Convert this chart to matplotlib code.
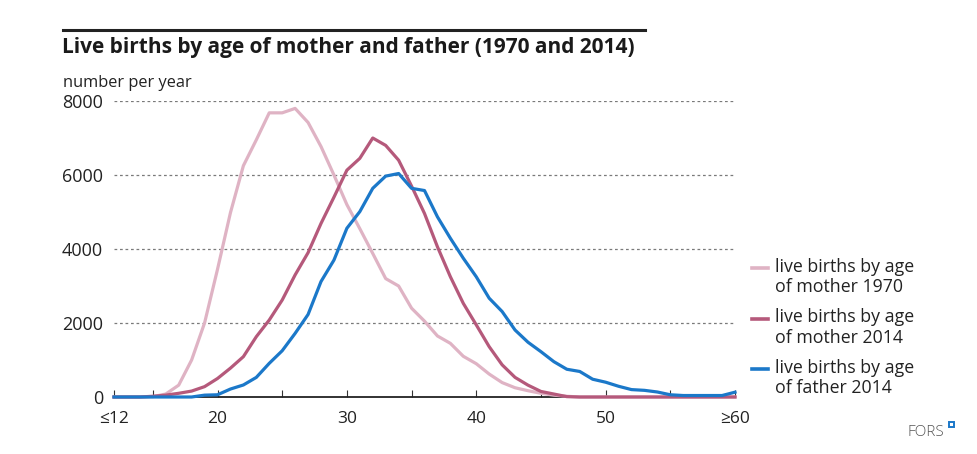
import numpy as np
import matplotlib.pyplot as plt
from matplotlib.lines import Line2D
from matplotlib.patches import Rectangle

plt.rcParams['font.family'] = ['Open Sans', 'DejaVu Sans']

# ages 12 (<=12) .. 60 (>=60)
ages = list(range(12, 61))

# live births by age of mother, 1970
mother_1970 = [0, 0, 0, 10, 80, 320, 1000, 2000, 3450, 4980, 6250, 6950, 7680, 7680, 7800, 7420,
               6770, 6000, 5200, 4550, 3880, 3200, 3000, 2400, 2050, 1650, 1450, 1100, 900, 620,
               390, 250, 170, 100, 50, 20, 0, 0, 0, 0, 0, 0, 0, 0, 0, 0, 0, 0, 0]
# live births by age of mother, 2014
mother_2014 = [0, 0, 0, 20, 50, 100, 160, 280, 500, 780, 1090, 1630, 2080, 2620, 3300, 3900,
               4690, 5400, 6130, 6450, 7000, 6800, 6400, 5700, 4960, 4060, 3250, 2530, 1950, 1360,
               870, 530, 320, 150, 80, 10, 0, 0, 0, 0, 0, 0, 0, 0, 0, 0, 0, 0, 0]
# live births by age of father, 2014
father_2014 = [0, 0, 0, 0, 0, 0, 0, 50, 60, 215, 325, 530, 910, 1250, 1720, 2230,
               3120, 3700, 4560, 5010, 5640, 5970, 6040, 5640, 5580, 4870, 4290, 3750, 3250, 2670,
               2310, 1810, 1480, 1225, 955, 750, 690, 480, 400, 290, 200, 180, 135, 60, 40, 40,
               40, 40, 130]

series = [
    (mother_1970, '#dfb3c4', 'live births by age\nof mother 1970'),
    (mother_2014, '#b5597b', 'live births by age\nof mother 2014'),
    (father_2014, '#1b78c9', 'live births by age\nof father 2014'),
]

fig = plt.figure(figsize=(9.77, 4.54), dpi=100)
ax = fig.add_axes([114 / 977, 1 - 397 / 454, (735 - 114) / 977, (397 - 101) / 454])

for vals, col, lab in series:
    ax.plot(ages, vals, color=col, lw=2.3, clip_on=False, solid_joinstyle='round', zorder=3)

ax.set_xlim(12, 60)
ax.set_ylim(0, 8000)
ax.set_yticks([0, 2000, 4000, 6000, 8000])
ax.set_yticklabels(['0', '2000', '4000', '6000', '8000'])
for y in [2000, 4000, 6000, 8000]:
    ax.axhline(y, color='#7a7a7a', lw=0.9, ls=(0, (2.2, 2.2)), zorder=1)

ax.set_xticks([12, 20, 30, 40, 50, 60])
ax.set_xticklabels(['≤12', '20', '30', '40', '50', '≥60'])
ax.set_xticks([15, 25, 35, 45, 55], minor=True)
ax.tick_params(axis='x', which='both', direction='in', length=5, width=0.8, color='#333333',
               labelsize=12.5, pad=10, labelcolor='#222222')
ax.tick_params(axis='y', length=0, labelsize=13, pad=8, labelcolor='#222222')

for s in ['top', 'right', 'left']:
    ax.spines[s].set_visible(False)
ax.spines['bottom'].set_color('#222222')
ax.spines['bottom'].set_linewidth(1.3)
ax.spines['bottom'].set_zorder(2)

# title block
fig.add_artist(Line2D([63 / 977, 645 / 977], [1 - 30 / 454] * 2, color='#222222', lw=2.2))
fig.text(62 / 977, 1 - 48 / 454, 'Live births by age of mother and father (1970 and 2014)',
         fontsize=15, fontweight='bold', color='#1a1a1a', va='center', ha='left')
fig.text(63 / 977, 1 - 83 / 454, 'number per year', fontsize=11.8, color='#222222',
         va='center', ha='left')

# legend drawn by hand so the handle sits on the first text line
for i, (vals, col, lab) in enumerate(series):
    yc = 268 + i * 50.5
    fig.add_artist(Line2D([752 / 977, 768 / 977], [1 - yc / 454] * 2, color=col, lw=2.6))
    fig.text(775 / 977, 1 - (yc - 10) / 454, lab, fontsize=12.8, color='#222222',
             va='top', ha='left', linespacing=1.15)

# FORS mark
fig.text(944 / 977, 1 - 432 / 454, 'FORS', fontsize=11, color='#555555',
         va='center', ha='right', fontweight='light')
fig.add_artist(Rectangle((949 / 977, 1 - 427 / 454), 5 / 977, 5 / 454, fill=False,
                         edgecolor='#1b78c9', lw=1.4))

fig.savefig('out.png', dpi=100)
